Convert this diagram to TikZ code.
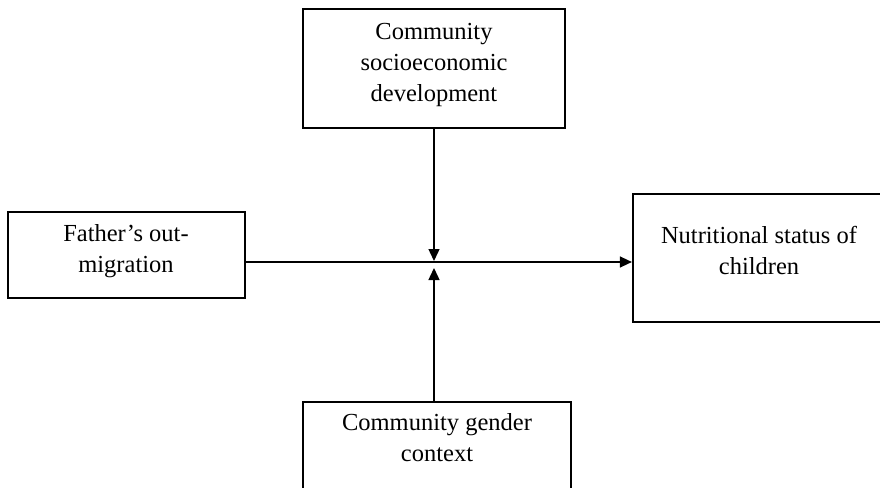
\documentclass[tikz,border=0pt]{standalone}
\usepackage{fontspec}
\setmainfont{Liberation Serif}
\usetikzlibrary{arrows.meta}
\begin{document}
\begin{tikzpicture}[x=1pt,y=-1pt,
  boxnode/.style={draw=black,line width=2.2pt,minimum width=#1,inner sep=0pt},
  lbl/.style={align=center,font=\fontsize{24.5}{31}\selectfont,inner sep=0pt},
  conn/.style={line width=1.4pt,-{Triangle[length=12pt,width=11pt]}}]
\useasboundingbox (0,0) rectangle (880,487);
\clip (0,0) rectangle (880,487);
% boxes
\node[boxnode=262pt,minimum height=119pt] (top) at (434,68.5) {};
\node[boxnode=237pt,minimum height=86pt] (fam) at (126.5,255) {};
\node[boxnode=280pt,minimum height=128pt] (nut) at (773,258) {};
\node[boxnode=268pt,minimum height=120pt] (bot) at (437,462) {};
% labels
\node[lbl] (toplbl) at (434,65) {Community\\socioeconomic\\development};
\node[lbl] (famlbl) at (126,251.5) {Father’s out-\\migration};
\node[lbl] (nutlbl) at (759,250) {Nutritional status of\\children};
\node[lbl] (botlbl) at (437,438) {Community gender\\context};
% junction
\coordinate (j) at (434,262);
\coordinate (jtop) at (434,261);
\coordinate (jbot) at (434,268);
% connectors
\draw[conn] (fam.east |- j) -- (nut.west |- j);
\draw[conn] (top.south) -- (jtop);
\draw[conn] (bot.north -| j) -- (jbot);
\end{tikzpicture}
\end{document}
